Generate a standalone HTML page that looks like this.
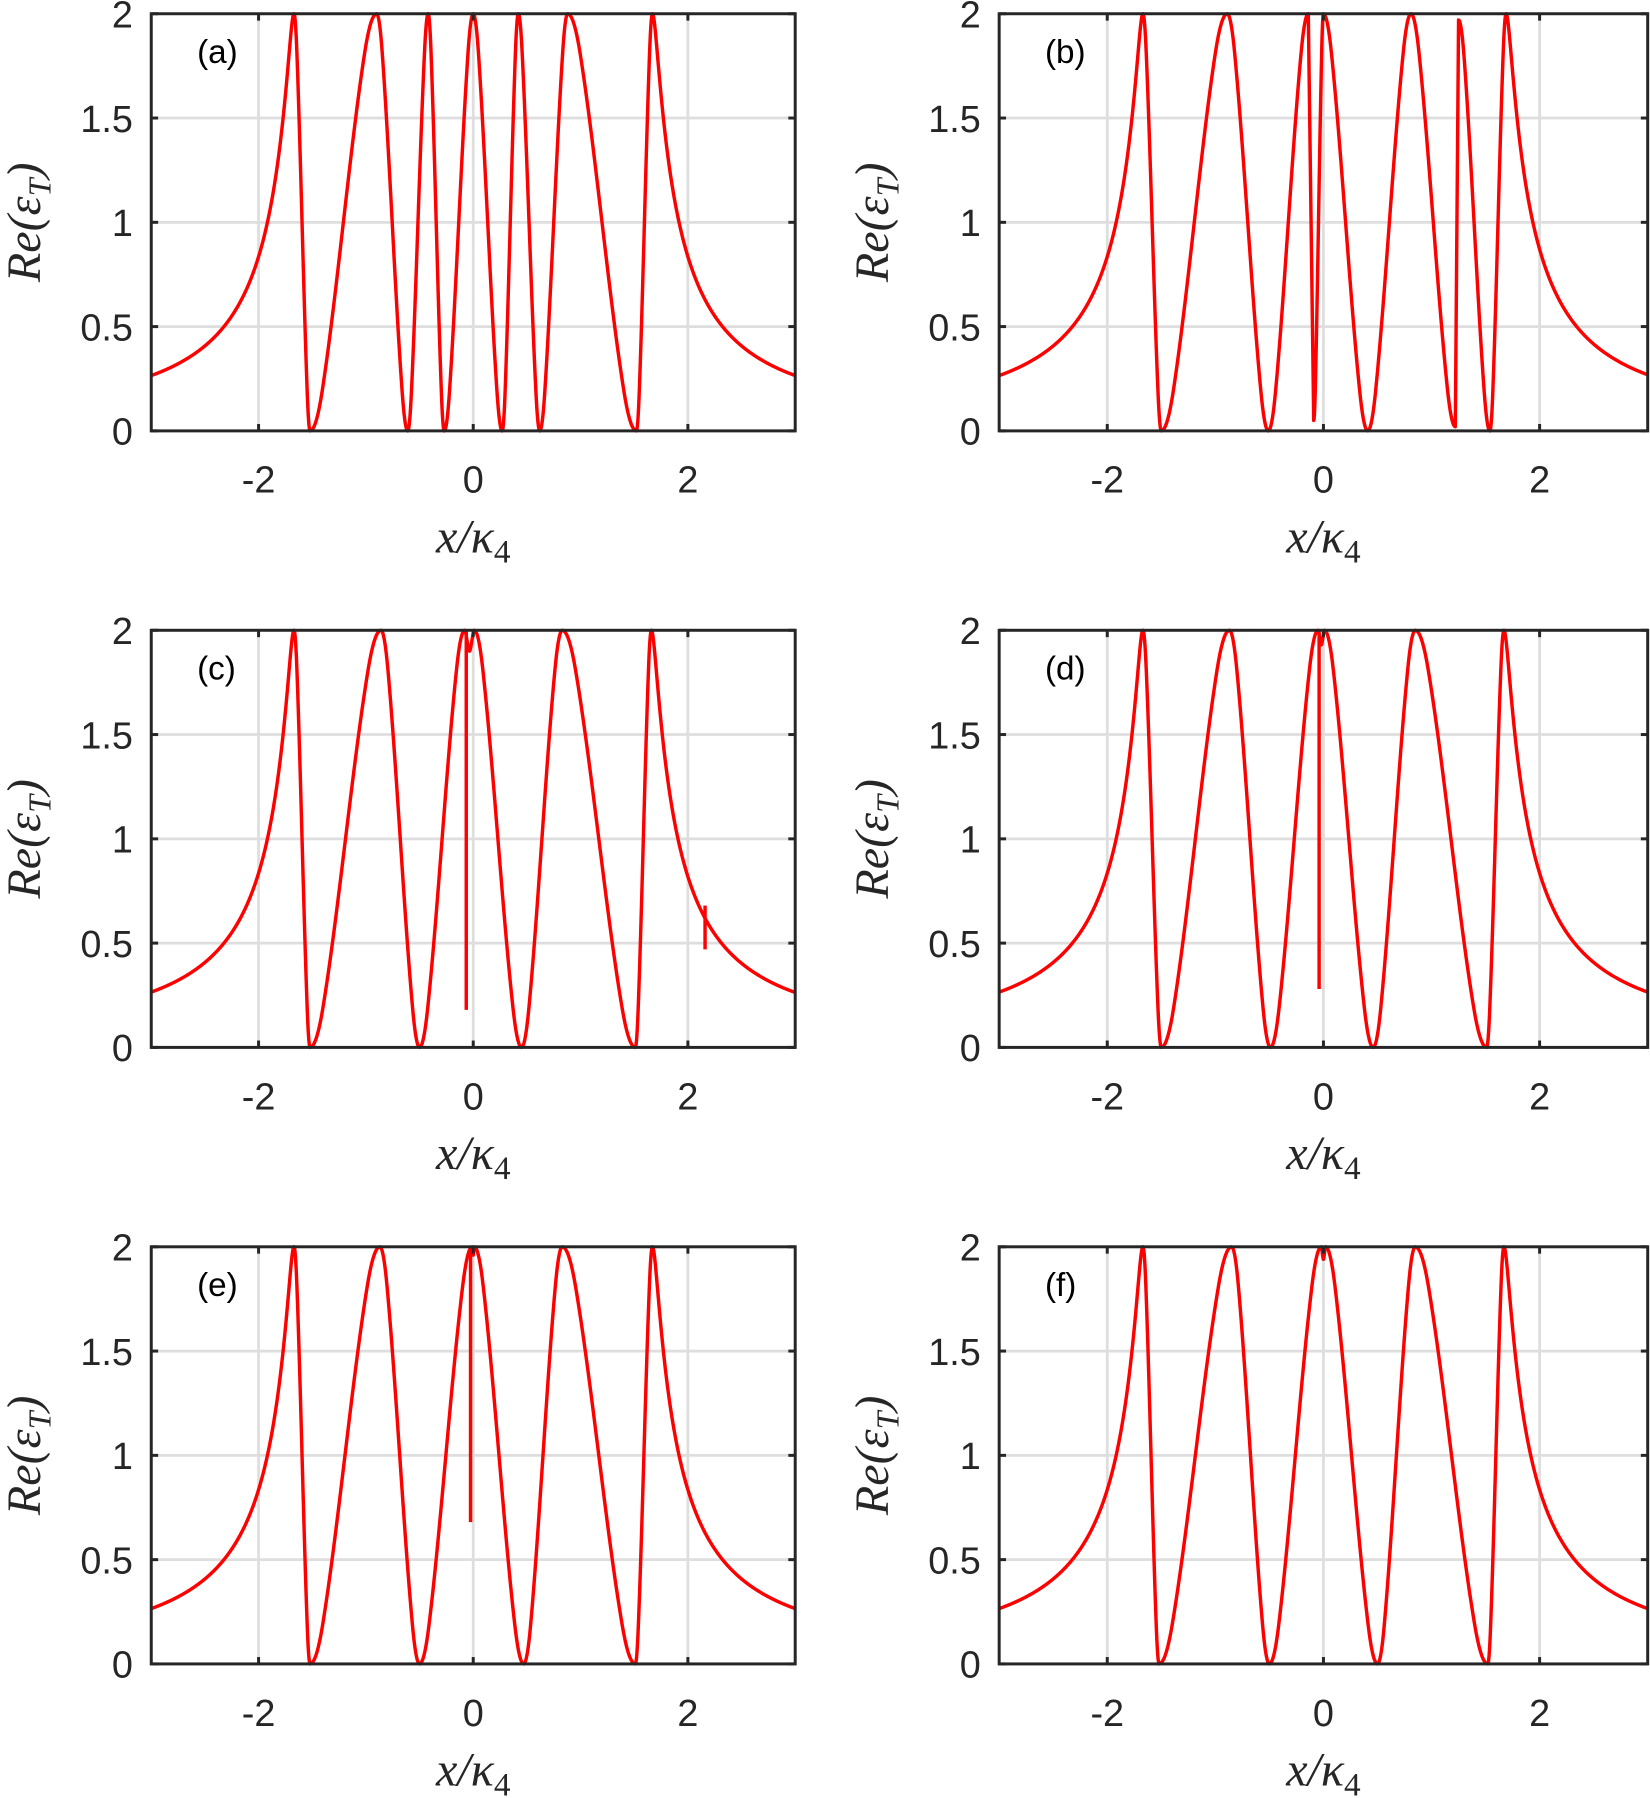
<!DOCTYPE html>
<html><head><meta charset="utf-8"><style>
html,body{margin:0;padding:0;background:#fff;}
svg{display:block;}
.t{font-family:"Liberation Sans",sans-serif;font-size:33px;fill:#262626;}
.l{font-family:"Liberation Serif",serif;font-style:italic;font-size:42px;fill:#262626;}
.p{font-family:"Liberation Sans",sans-serif;font-size:29px;fill:#000;}
</style></head><body>
<svg id="s" width="1650" height="1798" viewBox="0 0 1440 1569" preserveAspectRatio="none" xmlns="http://www.w3.org/2000/svg"></svg>
<script>
const S=document.getElementById('s');let H='';
const E=0.0008;
function tail(d){return 2/(1+4.9*(Math.pow(d*d+E,0.535)-Math.pow(E,0.535)));}
const P={
a:[[-1.67,2],[-1.52,0],[-0.9,2],[-0.61,0],[-0.42,2],[-0.27,0],[0,2],[0.27,0],[0.42,2],[0.62,0],[0.88,2],[1.52,0],[1.67,2]],
b:[[-1.67,2],[-1.5,0],[-0.89,2],[-0.51,0],[-0.14,2],[-0.09,0.05,'l'],[0,2],[0.41,0],[0.81,2],[1.22,0.02],[1.25,1.97,'l'],[1.54,0],[1.69,2]],
c:[[-1.67,2],[-1.52,0],[-0.86,2],[-0.5,0],[-0.08,2],[-0.035,1.9],[0.01,2],[0.45,0],[0.83,2],[1.51,0],[1.66,2]],
d:[[-1.67,2],[-1.5,0],[-0.87,2],[-0.49,0],[-0.05,2],[-0.02,1.93],[0.01,2],[0.46,0],[0.85,2],[1.51,0],[1.67,2]],
e:[[-1.67,2],[-1.52,0],[-0.87,2],[-0.5,0],[-0.01,2],[0.0,1.96],[0.01,2],[0.47,0],[0.83,2],[1.51,0],[1.67,2]],
f:[[-1.67,2],[-1.52,0],[-0.85,2],[-0.5,0],[-0.02,2],[0,1.94],[0.02,2],[0.5,0],[0.85,2],[1.52,0],[1.67,2]]
};
const spikes={c:[[-0.065,2,0.18],[2.16,0.47,0.68]],d:[[-0.04,2,0.28]],e:[[-0.025,2,0.68]]};
const panels=[['a',132,12,562],['b',872,12,566],['c',132,550,562],['d',872,550,566],['e',132,1088,562],['f',872,1088,566]];
const h=364;
panels.forEach(([k,x0,y0,w])=>{
 const X=u=>x0+(u+3)/6*w, Y=v=>y0+h-v/2*h;
 [-2,0,2].forEach(u=>H+=`<line x1="${X(u)}" y1="${y0}" x2="${X(u)}" y2="${y0+h}" stroke="#dedede" stroke-width="2.4"/>`);
 [0.5,1,1.5].forEach(v=>H+=`<line x1="${x0}" y1="${Y(v)}" x2="${x0+w}" y2="${Y(v)}" stroke="#dedede" stroke-width="2.4"/>`);
 const n=P[k];let pts=[];
 for(let u=-3;u<n[0][0];u+=0.004)pts.push([u,tail(n[0][0]-u)]);
 pts.push([n[0][0],2]);
 for(let i=1;i<n.length;i++){const [a,ya]=n[i-1],[b,yb,m]=n[i];const N=m==='l'?2:50;
  for(let j=1;j<=N;j++){const t=j/N;const c=(1-Math.cos(Math.PI*t))/2;const f=m==='l'?t:(0.45*c+0.55*(t<0.5?Math.min(c,t+0.0):Math.max(c,t))*1);pts.push([a+(b-a)*t,ya+(yb-ya)*(m==='l'?t:(0.5*c+0.5*lin(t)))]);}}
 function lin(t){ // linear flanks with rounded ends
  const r=0.18; if(t<r) return t*t/(2*r)/(1-r); if(t>1-r) return 1-(1-t)*(1-t)/(2*r)/(1-r); return (t-r/2)/(1-r);}
 const L=n[n.length-1][0];for(let u=L+0.004;u<=3.0001;u+=0.004)pts.push([u,tail(u-L)]);
 H+=`<path d="M${pts.map(p=>X(p[0]).toFixed(2)+','+Y(p[1]).toFixed(2)).join('L')}" fill="none" stroke="#ff0000" stroke-width="3" stroke-linejoin="round"/>`;
 (spikes[k]||[]).forEach(([u,v1,v2])=>H+=`<line x1="${X(u)}" y1="${Y(v1)}" x2="${X(u)}" y2="${Y(v2)}" stroke="#ff0000" stroke-width="3"/>`);
 H+=`<rect x="${x0}" y="${y0}" width="${w}" height="${h}" fill="none" stroke="#262626" stroke-width="2.6"/>`;
 [-2,0,2].forEach(u=>{H+=`<line x1="${X(u)}" y1="${y0+h}" x2="${X(u)}" y2="${y0+h-6}" stroke="#262626" stroke-width="2.6"/><line x1="${X(u)}" y1="${y0}" x2="${X(u)}" y2="${y0+6}" stroke="#262626" stroke-width="2.6"/>`;
  H+=`<text class="t" x="${X(u)}" y="${y0+h+54}" text-anchor="middle">${u}</text>`;});
 [0,0.5,1,1.5,2].forEach(v=>{H+=`<line x1="${x0}" y1="${Y(v)}" x2="${x0+6}" y2="${Y(v)}" stroke="#262626" stroke-width="2.6"/><line x1="${x0+w}" y1="${Y(v)}" x2="${x0+w-6}" y2="${Y(v)}" stroke="#262626" stroke-width="2.6"/>`;
  H+=`<text class="t" x="${x0-16}" y="${Y(v)+12}" text-anchor="end">${v}</text>`;});
 H+=`<text class="p" x="${x0+40}" y="${y0+43}">(${k})</text>`;
 H+=`<text class="l" x="${X(0)}" y="${y0+h+106}" text-anchor="middle">x/κ<tspan font-style="normal" font-size="29" dy="9">4</tspan></text>`;
 H+=`<text class="l" transform="translate(${x0-97},${y0+182}) rotate(-90)" text-anchor="middle">Re(ε<tspan font-size="28" dy="9">T</tspan><tspan dy="-9">)</tspan></text>`;
});
S.innerHTML=H;
</script>
</body></html>
